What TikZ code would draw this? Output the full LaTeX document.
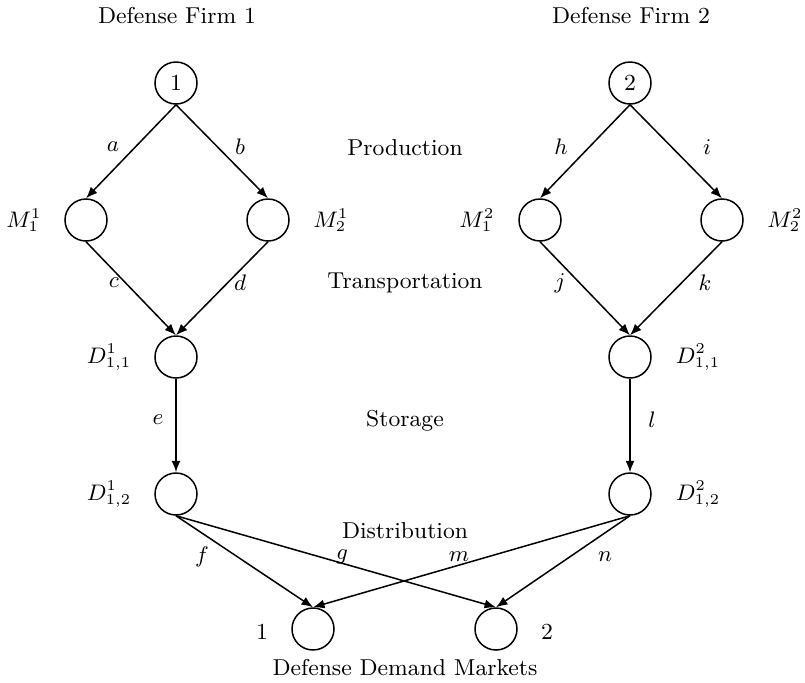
\documentclass[tikz,border=0pt]{standalone}
\usepackage{amsmath}
\usetikzlibrary{arrows.meta}

\begin{document}
\begin{tikzpicture}[x=0.4pt,y=-0.4pt,>={Latex[length=4.6pt,width=3.6pt]},
  every node/.style={font=\fontsize{9.2}{11}\selectfont},
  hub/.style={circle,draw,line width=0.6pt,minimum size=16.8pt,inner sep=0pt},
  flow/.style={->,line width=0.6pt}]
  \useasboundingbox (0,0) rectangle (805,682);
  % firm 1
  \node[hub] (f1) at (176,83) {1};
  \node[hub] (m11) at (86,220) {};
  \node[hub] (m21) at (268,220) {};
  \node[hub] (d11a) at (176,357) {};
  \node[hub] (d12a) at (176,494) {};
  % firm 2
  \node[hub] (f2) at (630,83) {2};
  \node[hub] (m12) at (540,220) {};
  \node[hub] (m22) at (722,220) {};
  \node[hub] (d11b) at (630,357) {};
  \node[hub] (d12b) at (630,494) {};
  % demand markets
  \node[hub] (dm1) at (313,629) {};
  \node[hub] (dm2) at (496,629) {};
  % links
  \draw[flow] (f1.south) -- (m11.north);
  \draw[flow] (f1.south) -- (m21.north);
  \draw[flow] (m11.south) -- (d11a.north);
  \draw[flow] (m21.south) -- (d11a.north);
  \draw[flow] (d11a.south) -- (d12a.north);
  \draw[flow] (f2.south) -- (m12.north);
  \draw[flow] (f2.south) -- (m22.north);
  \draw[flow] (m12.south) -- (d11b.north);
  \draw[flow] (m22.south) -- (d11b.north);
  \draw[flow] (d11b.south) -- (d12b.north);
  \draw[flow] (d12a.south) -- (dm1.north);
  \draw[flow] (d12a.south) -- (dm2.north);
  \draw[flow] (d12b.south) -- (dm1.north);
  \draw[flow] (d12b.south) -- (dm2.north);
  % link labels
  \node at (113,147) {$a$};
  \node at (240,147) {$b$};
  \node at (114,283) {$c$};
  \node at (240,283) {$d$};
  \node at (158,420) {$e$};
  \node at (202,557) {$f$};
  \node at (342,557) {$g$};
  \node at (561,147) {$h$};
  \node at (707,147) {$i$};
  \node at (560,283) {$j$};
  \node at (705,283) {$k$};
  \node at (652,420) {$l$};
  \node at (459,557) {$m$};
  \node at (605,557) {$n$};
  % node labels
  \node at (24,220) {$M^1_1$};
  \node at (331,220) {$M^1_2$};
  \node at (477,220) {$M^2_1$};
  \node at (785,220) {$M^2_2$};
  \node at (109,357) {$D^1_{1,1}$};
  \node at (109,494) {$D^1_{1,2}$};
  \node at (698,357) {$D^2_{1,1}$};
  \node at (698,494) {$D^2_{1,2}$};
  \node at (262,632) {1};
  \node at (547,632) {2};
  % tier titles
  \node[anchor=base] at (177,23) {Defense Firm 1};
  \node[anchor=base] at (631,23) {Defense Firm 2};
  \node[anchor=base] at (405,155) {Production};
  \node[anchor=base] at (405,288) {Transportation};
  \node[anchor=base] at (405,426) {Storage};
  \node[anchor=base] at (405,538) {Distribution};
  \node[anchor=base] at (405,675) {Defense Demand Markets};
\end{tikzpicture}
\end{document}
